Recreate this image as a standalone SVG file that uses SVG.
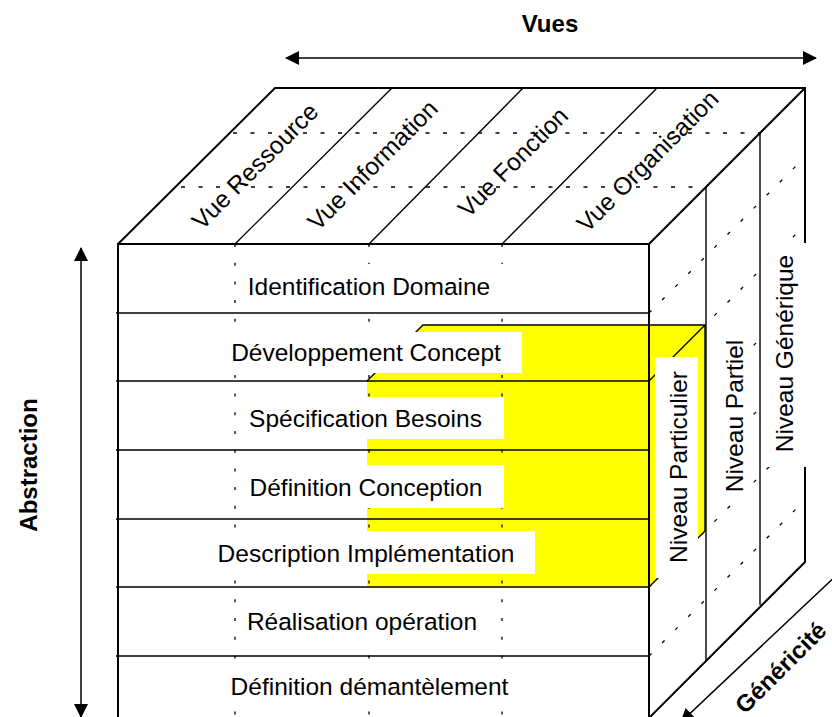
<svg xmlns="http://www.w3.org/2000/svg" width="832" height="717" viewBox="0 0 832 717">
<defs>
<marker id="ah" viewBox="0 0 14 14" refX="13" refY="7" markerWidth="14" markerHeight="14" markerUnits="userSpaceOnUse" orient="auto-start-reverse"><path d="M0,0 L14,7 L0,14 z" fill="#000"/></marker>
</defs>
<style>
.t{font-family:"Liberation Sans",Arial,sans-serif;font-size:24.5px;fill:#000}
.b{font-family:"Liberation Sans",Arial,sans-serif;font-size:24px;font-weight:bold;fill:#000}
.o{stroke:#000;stroke-width:2;fill:none}
.l{stroke:#000;stroke-width:1.4;fill:none}
.d{stroke:#000;stroke-width:1.3;stroke-dasharray:3 15.7;fill:none}
.dh{stroke:#000;stroke-width:1.3;stroke-dasharray:4 13.5;fill:none}
.dd{stroke:#000;stroke-width:1.3;stroke-dasharray:3.5 15;fill:none}
.wb{fill:#fff}
.y{fill:#ffff00}
.a{stroke:#000;stroke-width:1.5;fill:none;marker-end:url(#ah)}
.a2{stroke:#000;stroke-width:1.5;fill:none;marker-end:url(#ah);marker-start:url(#ah)}
</style>
<rect x="0" y="0" width="832" height="717" fill="#fff"/>

<g id="cube">
<path class="dd" d="M649,313 L805,157 M649,381 L805,225 M649,450 L805,294 M649,519 L805,363 M649,587 L805,431 M649,656 L805,500"/>
<path class="dh" d="M233,133 H760 M181,187 H706"/>
<g id="yellow-block">
<path class="y" d="M367,381 L423,325 L705,325 L705,531 L649,587 L367,587 Z"/>
<path class="l" d="M367,381 L423,325 H705 V531 M705,325 L649,381 M705,531 L649,587"/>
</g>
<path class="d" d="M235,244 V718 M369,244 V718 M502,244 V718"/>
<path class="l" d="M116,313 H649 M116,381 H649 M116,450 H649 M116,519 H649 M116,587 H649 M116,656 H649"/>
<path class="l" d="M235,244 L392,88 M369,244 L523,88 M502,244 L657,88 M706,187 V661 M760,133 V605"/>
<path class="o" d="M118,717 V244 H649 V718 M118,244 L275,88 H805 V562 L649,718 M649,244 L805,88"/>
</g>

<g id="row-identification"><rect class="wb" x="240" y="264" width="268" height="43"/><text class="t" x="369" y="295" text-anchor="middle">Identification Domaine</text></g>
<g id="row-developpement"><rect class="wb" x="222" y="332" width="300" height="41"/><text class="t" x="366" y="361" text-anchor="middle">Développement Concept</text></g>
<g id="row-specification"><rect class="wb" x="241" y="397" width="263" height="42"/><text class="t" x="365.5" y="427" text-anchor="middle">Spécification Besoins</text></g>
<g id="row-definition-conception"><rect class="wb" x="241" y="465" width="263" height="43"/><text class="t" x="366" y="496" text-anchor="middle">Définition Conception</text></g>
<g id="row-description"><rect class="wb" x="209" y="531" width="326" height="43"/><text class="t" x="366" y="562" text-anchor="middle">Description Implémentation</text></g>
<g id="row-realisation"><rect class="wb" x="239" y="599" width="258" height="43"/><text class="t" x="362" y="630" text-anchor="middle">Réalisation opération</text></g>
<g id="row-demantelement"><rect class="wb" x="223" y="664" width="305" height="43"/><text class="t" x="369.5" y="695" text-anchor="middle">Définition démantèlement</text></g>

<g id="vue-ressource"><text class="t" text-anchor="middle" transform="translate(261,172) rotate(-45)">Vue Ressource</text></g>
<g id="vue-information"><text class="t" text-anchor="middle" transform="translate(378.5,171) rotate(-45)">Vue Information</text></g>
<g id="vue-fonction"><text class="t" text-anchor="middle" transform="translate(519,168) rotate(-45)">Vue Fonction</text></g>
<g id="vue-organisation"><text class="t" text-anchor="middle" transform="translate(653.5,167) rotate(-45)">Vue Organisation</text></g>

<g id="niveau-particulier"><rect class="wb" x="655" y="357" width="43" height="221"/><text class="t" text-anchor="middle" transform="translate(687,467) rotate(-90)">Niveau Particulier</text></g>
<g id="niveau-partiel"><rect class="wb" x="711" y="326" width="42" height="177"/><text class="t" text-anchor="middle" transform="translate(743,416) rotate(-90)">Niveau Partiel</text></g>
<g id="niveau-generique"><rect class="wb" x="762" y="243" width="47" height="224"/><text class="t" text-anchor="middle" transform="translate(793,353.5) rotate(-90)">Niveau Générique</text></g>

<g id="axes">
<line class="a2" x1="286" y1="58" x2="816" y2="58"/>
<line class="a2" x1="81" y1="248" x2="81" y2="717"/>
<line class="a" x1="860" y1="553" x2="681" y2="722"/>
</g>
<g id="axis-labels">
<text class="b" x="550" y="32" text-anchor="middle">Vues</text>
<text class="b" text-anchor="middle" transform="translate(37,465) rotate(-90)">Abstraction</text>
<text class="b" font-size="23" transform="translate(745,715) rotate(-45)">Généricité</text>
</g>
</svg>
